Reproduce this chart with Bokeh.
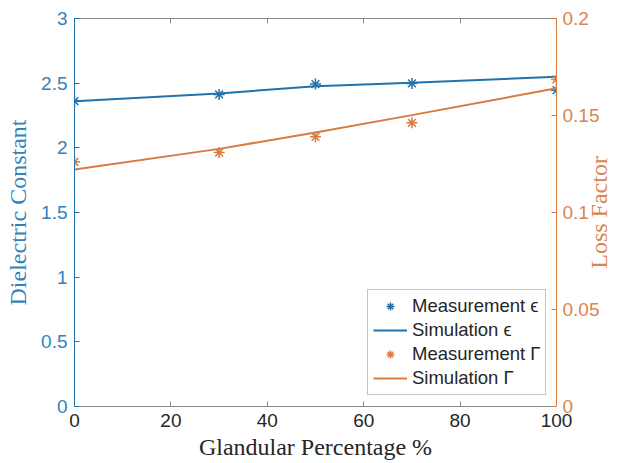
import math
from bokeh.plotting import figure
from bokeh.models import Range1d, LinearAxis, FixedTicker, Legend, LegendItem
from bokeh.embed import file_html
from bokeh.resources import INLINE

# ---- data ----
glandular = [0, 30, 50, 70, 100]
meas_eps = [2.361, 2.413, 2.493, 2.498, 2.446]
sim_eps = [2.361, 2.421, 2.476, 2.503, 2.549]
meas_loss = [0.1261, 0.1309, 0.1390, 0.1462, 0.1686]
sim_loss = [0.1222, 0.1328, 0.1412, 0.1502, 0.1640]

x_ticks = [0, 20, 40, 60, 80, 100]
x_tick_labels = ["0", "20", "40", "60", "80", "100"]
eps_ticks = [0, 0.5, 1, 1.5, 2, 2.5, 3]
eps_tick_labels = ["0", "0.5", "1", "1.5", "2", "2.5", "3"]
loss_ticks = [0, 0.05, 0.1, 0.15, 0.2]
loss_tick_labels = ["0", "0.05", "0.1", "0.15", "0.2"]

labels = ["Measurement \u03f5", "Simulation \u03f5", "Measurement \u0393", "Simulation \u0393"]
right_title = "Loss Factor"

BLUE = "#2272AD"
BLUE_T = "#3482BA"
ORANGE = "#D97A40"
ORANGE_T = "#DB8450"
DARK = "#262626"
AXGRAY = "#8a8a8a"
SANS = "Liberation Sans"
SERIF = "Liberation Serif"

p = figure(width=628, height=463, output_backend="svg", toolbar_location=None,
           x_range=Range1d(0, 100), y_range=Range1d(0, 3),
           min_border_left=74, min_border_right=71, min_border_top=18, min_border_bottom=57)
p.extra_y_ranges = {"loss": Range1d(0, 0.2)}
p.grid.visible = False
p.outline_line_color = None
p.background_fill_color = "white"
p.border_fill_color = "white"


def style_axis(ax, color, ticks, tick_labels, label_color):
    ax.ticker = FixedTicker(ticks=ticks)
    ax.major_label_overrides = {t: l for t, l in zip(ticks, tick_labels)}
    ax.major_tick_in = 5
    ax.major_tick_out = 0
    ax.minor_tick_in = 0
    ax.minor_tick_out = 0
    ax.axis_line_color = color
    ax.major_tick_line_color = color
    ax.major_label_text_color = label_color
    ax.major_label_text_font = SANS
    ax.major_label_text_font_size = "19px"
    ax.major_label_standoff = 7
    ax.axis_label_text_font = SERIF
    ax.axis_label_text_font_style = "normal"
    ax.axis_label_text_font_size = "24px"


# bottom axis
xa = p.xaxis[0]
style_axis(xa, AXGRAY, x_ticks, x_tick_labels, DARK)
xa.axis_label = "Glandular Percentage %"
xa.axis_label_text_color = DARK
xa.axis_label_standoff = 4

# left axis
ya = p.yaxis[0]
style_axis(ya, BLUE, eps_ticks, eps_tick_labels, BLUE_T)
ya.axis_label = "Dielectric Constant"
ya.axis_label_text_color = BLUE_T
ya.axis_label_standoff = 7

# right axis
ra = LinearAxis(y_range_name="loss")
style_axis(ra, ORANGE, loss_ticks, loss_tick_labels, ORANGE_T)
ra.major_label_standoff = 6
p.add_layout(ra, "right")

# right axis title (reads bottom-to-top like the left one); drawn as a single
# rotated tick label on an otherwise invisible axis, anchored at its start
title_anchor = 1.065
rt = LinearAxis(ticker=FixedTicker(ticks=[title_anchor]),
                major_label_overrides={title_anchor: right_title},
                major_label_orientation=math.pi / 2)
rt.axis_line_color = None
rt.major_tick_line_color = None
rt.minor_tick_line_color = None
rt.major_tick_in = 0
rt.major_tick_out = 0
rt.major_label_standoff = -3
rt.major_label_text_font = SERIF
rt.major_label_text_font_size = "24px"
rt.major_label_text_color = ORANGE_T
p.add_layout(rt, "right")

# top axis (box)
ta = LinearAxis()
style_axis(ta, AXGRAY, x_ticks, ["" for _ in x_ticks], DARK)
ta.major_label_text_font_size = "0px"
ta.major_label_standoff = 0
p.add_layout(ta, "above")

r_sim_eps = p.line(glandular, sim_eps, line_color=BLUE, line_width=2)
r_meas_eps = p.scatter(glandular, meas_eps, marker="asterisk", size=11,
                       line_color=BLUE, line_width=1.5)
r_sim_loss = p.line(glandular, sim_loss, line_color=ORANGE, line_width=2,
                    y_range_name="loss")
r_meas_loss = p.scatter(glandular, meas_loss, marker="asterisk", size=11,
                        line_color=ORANGE, line_width=1.5, y_range_name="loss")

legend = Legend(items=[
    LegendItem(label=labels[0], renderers=[r_meas_eps]),
    LegendItem(label=labels[1], renderers=[r_sim_eps]),
    LegendItem(label=labels[2], renderers=[r_meas_loss]),
    LegendItem(label=labels[3], renderers=[r_sim_loss]),
], location=(293, 11))
legend.label_text_font = SANS
legend.label_text_font_size = "18.5px"
legend.label_text_color = DARK
legend.border_line_color = AXGRAY
legend.border_line_width = 1
legend.background_fill_color = "white"
legend.background_fill_alpha = 1
legend.padding = 5
legend.spacing = 2
legend.margin = 0
legend.glyph_width = 34
legend.glyph_height = 20
legend.label_height = 20
legend.label_standoff = 5
p.add_layout(legend, "center")

open("out.html", "w").write(file_html(p, INLINE))
